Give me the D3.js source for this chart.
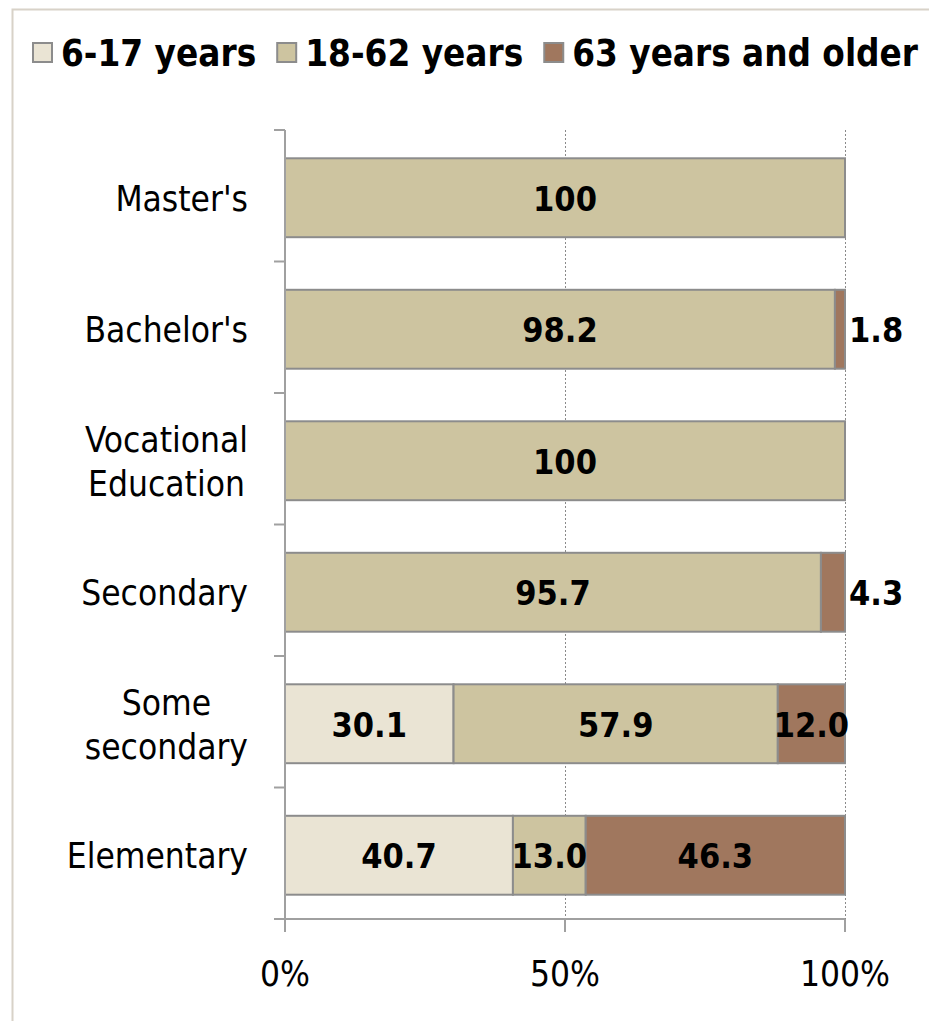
<!DOCTYPE html>
<html><head><meta charset="utf-8">
<script src="https://cdn.jsdelivr.net/npm/d3@7/dist/d3.min.js"></script>
<style>
html,body{margin:0;padding:0;background:#fff;}
svg{display:block;}
</style></head>
<body>
<script>
const categories = ["Master's","Bachelor's","Vocational\nEducation","Secondary","Some\nsecondary","Elementary"];
const seriesNames = ["6-17 years","18-62 years","63 years and older"];
const young = [0,0,0,0,30.1,40.7];
const adult = [100,98.2,100,95.7,57.9,13.0];
const old = [0,1.8,0,4.3,12.0,46.3];
const xTicks = [0,50,100];
const colors = ["#EAE4D4","#CDC4A0","#A0775E"];

const W=929,H=1021;
const svg=d3.select("body").append("svg").attr("width",W).attr("height",H);
const FONT="'DejaVu Sans Condensed','DejaVu Sans',sans-serif";

// frame
svg.append("path").attr("d",`M12.5,${H} L12.5,9.5 L${W},9.5`).attr("fill","none").attr("stroke","#D8D2C8").attr("stroke-width",2);

const x=d3.scaleLinear().domain([0,100]).range([285,845]);
const y=d3.scaleBand().domain(d3.range(categories.length)).range([132,921]).paddingInner(0.4).paddingOuter(0.2);
const yTop=130, yBot=919;

// gridlines
svg.append("g").selectAll("line").data(xTicks.filter(d=>d>0)).join("line")
 .attr("x1",d=>x(d)+0.5).attr("x2",d=>x(d)+0.5).attr("y1",yTop).attr("y2",yBot)
 .attr("stroke","#8a8a8a").attr("stroke-width",1).attr("stroke-dasharray","2,2");

// stacked data
const table=categories.map((c,i)=>({cat:i,v:[young[i],adult[i],old[i]]}));
const stack=d3.stack().keys([0,1,2]).value((d,k)=>d.v[k]);
const stacked=stack(table);

const gBars=svg.append("g");
stacked.forEach((layer,k)=>{
  gBars.selectAll(null).data(layer.filter(d=>d[1]-d[0]>0)).join("rect")
   .attr("x",d=>x(d[0])).attr("width",d=>x(d[1])-x(d[0]))
   .attr("y",(d)=>y(d.data.cat)).attr("height",y.bandwidth())
   .attr("fill",colors[k]).attr("stroke","#8c8c8c").attr("stroke-width",2);
});

// axes
const axisColor="#a0a0a0";
const gAx=svg.append("g");
gAx.append("line").attr("x1",285).attr("x2",285).attr("y1",yTop).attr("y2",932).attr("stroke",axisColor).attr("stroke-width",2);
gAx.append("line").attr("x1",274).attr("x2",845).attr("y1",yBot).attr("y2",yBot).attr("stroke",axisColor).attr("stroke-width",2);
const bstep=(yBot-yTop)/categories.length;
gAx.selectAll(".ct").data(d3.range(categories.length+1)).join("line")
 .attr("x1",274).attr("x2",285).attr("y1",i=>yTop+i*bstep).attr("y2",i=>yTop+i*bstep)
 .attr("stroke",axisColor).attr("stroke-width",2);
gAx.selectAll(".xt").data(xTicks).join("line")
 .attr("x1",d=>x(d)).attr("x2",d=>x(d)).attr("y1",yBot).attr("y2",932)
 .attr("stroke",axisColor).attr("stroke-width",2);
gAx.selectAll(".xl").data(xTicks).join("text")
 .attr("x",d=>x(d)).attr("y",986).attr("text-anchor","middle")
 .attr("font-family",FONT).attr("font-size",35).attr("fill","#000").text(d=>d+"%");

// category labels
categories.forEach((c,i)=>{
  const lines=c.split("\n");
  const cy=y(i)+y.bandwidth()/2;
  const lh=44;
  const t=svg.append("text").attr("font-family",FONT).attr("font-size",35).attr("fill","#000");
  lines.forEach((l,j)=>{
    t.append("tspan").attr("y",cy+13+(j-(lines.length-1)/2)*lh).text(l);
  });
  let maxW=0;
  t.selectAll("tspan").each(function(){maxW=Math.max(maxW,this.getComputedTextLength());});
  if(lines.length===1){ t.attr("text-anchor","end"); t.selectAll("tspan").attr("x",248); }
  else { t.attr("text-anchor","middle"); t.selectAll("tspan").attr("x",248-maxW/2); }
});

// value labels
const fmt=v=>v===100?"100":v.toFixed(1);
stacked.forEach((layer,k)=>{
  layer.filter(d=>d[1]-d[0]>0).forEach(d=>{
    const v=d[1]-d[0];
    const cy=y(d.data.cat)+y.bandwidth()/2+13;
    const small=v<5;
    svg.append("text").attr("font-family",FONT).attr("font-weight","bold").attr("font-size",34)
     .attr("x",small?x(100)+4:(x(d[0])+x(d[1]))/2).attr("y",cy)
     .attr("text-anchor",small?"start":"middle").attr("fill","#000").text(fmt(v));
  });
});

// legend
const lg=svg.append("g");
let lx=32;
const maxRight=918;
seriesNames.forEach((s,k)=>{
  lg.append("rect").attr("x",lx+1).attr("y",43).attr("width",19).attr("height",19)
   .attr("fill",colors[k]).attr("stroke","#8c8c8c").attr("stroke-width",2);
  const t=lg.append("text").attr("x",lx+29).attr("y",66).attr("font-family",FONT).attr("font-weight","bold")
   .attr("font-size",36.5).attr("fill","#000").text(s);
  let w=t.node().getComputedTextLength();
  if(k===seriesNames.length-1 && lx+29+w>maxRight){
    w=maxRight-(lx+29);
    t.attr("textLength",w).attr("lengthAdjust","spacingAndGlyphs");
  }
  lx=lx+29+w+20;
});
</script>
</body></html>
